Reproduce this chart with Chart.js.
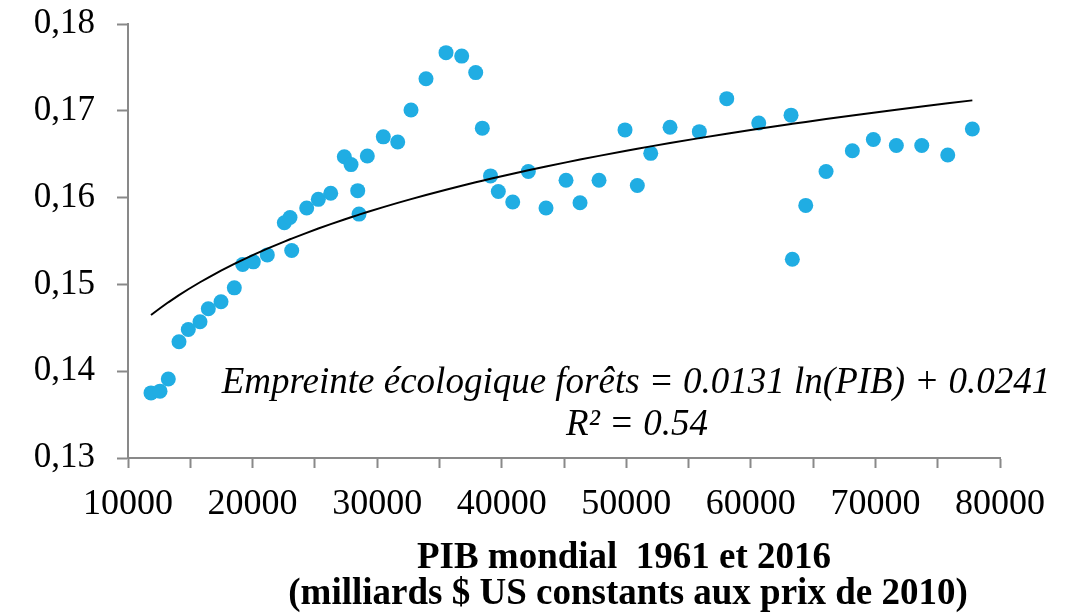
<!DOCTYPE html>
<html>
<head>
<meta charset="utf-8">
<script src="https://cdn.jsdelivr.net/npm/chart.js@4.4.1/dist/chart.umd.min.js"></script>
<style>
  html, body { margin: 0; padding: 0; background: #fff; }
</style>
</head>
<body>
<canvas id="forestChart" width="1068" height="615"></canvas>
<script>
// PIB mondial (milliards $ US constants 2010), 1961-2016
const gdpValues = [
  11846, 12569, 13235, 14094, 14841, 15780, 16447, 17466, 18534, 19208,
  20059, 21183, 22548, 23005, 23142, 24346, 25277, 26273, 27365, 27903,
  28441, 28545, 29211, 30496, 31652, 32719, 33923, 35529, 36789, 37913,
  38443, 39101, 39728, 40884, 42136, 43557, 45163, 46287, 47812, 49899,
  50887, 51962, 53512, 55864, 58063, 60633, 63226, 63330, 64406, 66036,
  68147, 69833, 71679, 73718, 75806, 77780
];

// Empreinte écologique forêts
const forestFootprint = [
  0.1375, 0.1377, 0.1391, 0.1434, 0.1448, 0.1457, 0.1472, 0.1480, 0.1496, 0.1523,
  0.1526, 0.1534, 0.1571, 0.1577, 0.1539, 0.1588, 0.1598, 0.1605, 0.1647, 0.1638,
  0.1608, 0.1581, 0.1648, 0.1670, 0.1664, 0.1701, 0.1737, 0.1767, 0.1763, 0.1744,
  0.1680, 0.1625, 0.1607, 0.1595, 0.1630, 0.1588, 0.1620, 0.1594, 0.1620, 0.1678,
  0.1614, 0.1651, 0.1681, 0.1676, 0.1714, 0.1686, 0.1695, 0.1529, 0.1591, 0.1630,
  0.1654, 0.1667, 0.1660, 0.1660, 0.1649, 0.1679
];

const xTickValues = [10000, 15000, 20000, 25000, 30000, 35000, 40000, 45000,
                     50000, 55000, 60000, 65000, 70000, 75000, 80000];
const xTickLabels = ['10000', '', '20000', '', '30000', '', '40000', '',
                     '50000', '', '60000', '', '70000', '', '80000'];
const yTickValues = [0.13, 0.14, 0.15, 0.16, 0.17, 0.18];
const yTickLabels = ['0,13', '0,14', '0,15', '0,16', '0,17', '0,18'];

const equationText = 'Empreinte écologique forêts = 0.0131 ln(PIB) + 0.0241';
const r2Text = 'R² = 0.54';
const xTitleLines = ['PIB mondial  1961 et 2016', '(milliards $ US constants aux prix de 2010)'];

const SERIF = '"Liberation Serif", "Times New Roman", serif';
const AXIS_GREY = '#898989';
const DOT_BLUE = '#20ADE3';

// logarithmic trend line, least squares on ln(PIB) like the spreadsheet does
function fitLogTrend(xs, ys) {
  const n = xs.length;
  const lx = xs.map(v => Math.log(v));
  const mx = lx.reduce((a, b) => a + b, 0) / n;
  const my = ys.reduce((a, b) => a + b, 0) / n;
  let sxy = 0, sxx = 0;
  lx.forEach((v, i) => {
    sxy += (v - mx) * (ys[i] - my);
    sxx += (v - mx) * (v - mx);
  });
  const slope = sxy / sxx;
  return { slope, intercept: my - slope * mx };
}

const trend = fitLogTrend(gdpValues, forestFootprint);
const trendPoints = gdpValues.map(x => ({ x, y: trend.slope * Math.log(x) + trend.intercept }));
const scatterPoints = gdpValues.map((x, i) => ({ x, y: forestFootprint[i] }));

// equation, R² and the axis title drawn as plain text
const textPlugin = {
  id: 'chartTexts',
  afterDraw(chart) {
    const ctx = chart.ctx;
    ctx.save();
    ctx.fillStyle = '#000';
    ctx.textAlign = 'center';
    ctx.textBaseline = 'alphabetic';
    ctx.font = 'italic 37px ' + SERIF;
    ctx.fillText(equationText, 636, 393);
    ctx.fillText(r2Text, 637, 435);
    ctx.font = 'bold 37px ' + SERIF;
    ctx.fillText(xTitleLines[0], 624, 568);
    ctx.fillText(xTitleLines[1], 628, 604);
    ctx.restore();
  }
};

new Chart(document.getElementById('forestChart').getContext('2d'), {
  type: 'scatter',
  data: {
    datasets: [
      {
        type: 'line',
        label: 'Tendance',
        data: trendPoints,
        borderColor: '#000',
        borderWidth: 2,
        pointRadius: 0,
        fill: false,
        tension: 0
      },
      {
        label: 'Empreinte écologique forêts',
        data: scatterPoints,
        backgroundColor: DOT_BLUE,
        borderWidth: 0,
        pointRadius: 7.5
      }
    ]
  },
  options: {
    responsive: false,
    animation: false,
    layout: { padding: { top: 24, right: 68, bottom: 0, left: 0 } },
    plugins: { legend: { display: false }, tooltip: { enabled: false } },
    scales: {
      x: {
        type: 'linear',
        min: 10000,
        max: 80000,
        afterBuildTicks: s => { s.ticks = xTickValues.map(v => ({ value: v })); },
        afterFit: s => { s.height = 157; s.paddingLeft = 0; s.paddingRight = 0; },
        border: { display: true, color: AXIS_GREY, width: 2 },
        grid: { display: true, drawOnChartArea: false, drawTicks: true, tickLength: 10, tickColor: AXIS_GREY, tickWidth: 2 },
        ticks: {
          autoSkip: false,
          maxRotation: 0,
          padding: 15,
          color: '#000',
          font: { family: SERIF, size: 36 },
          callback: (v, i) => xTickLabels[i]
        }
      },
      y: {
        type: 'linear',
        min: 0.13,
        max: 0.18,
        afterBuildTicks: s => { s.ticks = yTickValues.map(v => ({ value: v })); },
        afterFit: s => { s.width = 128; s.paddingTop = 0; s.paddingBottom = 0; },
        border: { display: true, color: AXIS_GREY, width: 2 },
        grid: { display: true, drawOnChartArea: false, drawTicks: true, tickLength: 11, tickColor: AXIS_GREY, tickWidth: 2 },
        ticks: {
          padding: 22,
          color: '#000',
          font: { family: SERIF, size: 35 },
          callback: (v, i) => yTickLabels[i]
        }
      }
    }
  },
  plugins: [textPlugin]
});
</script>
</body>
</html>
